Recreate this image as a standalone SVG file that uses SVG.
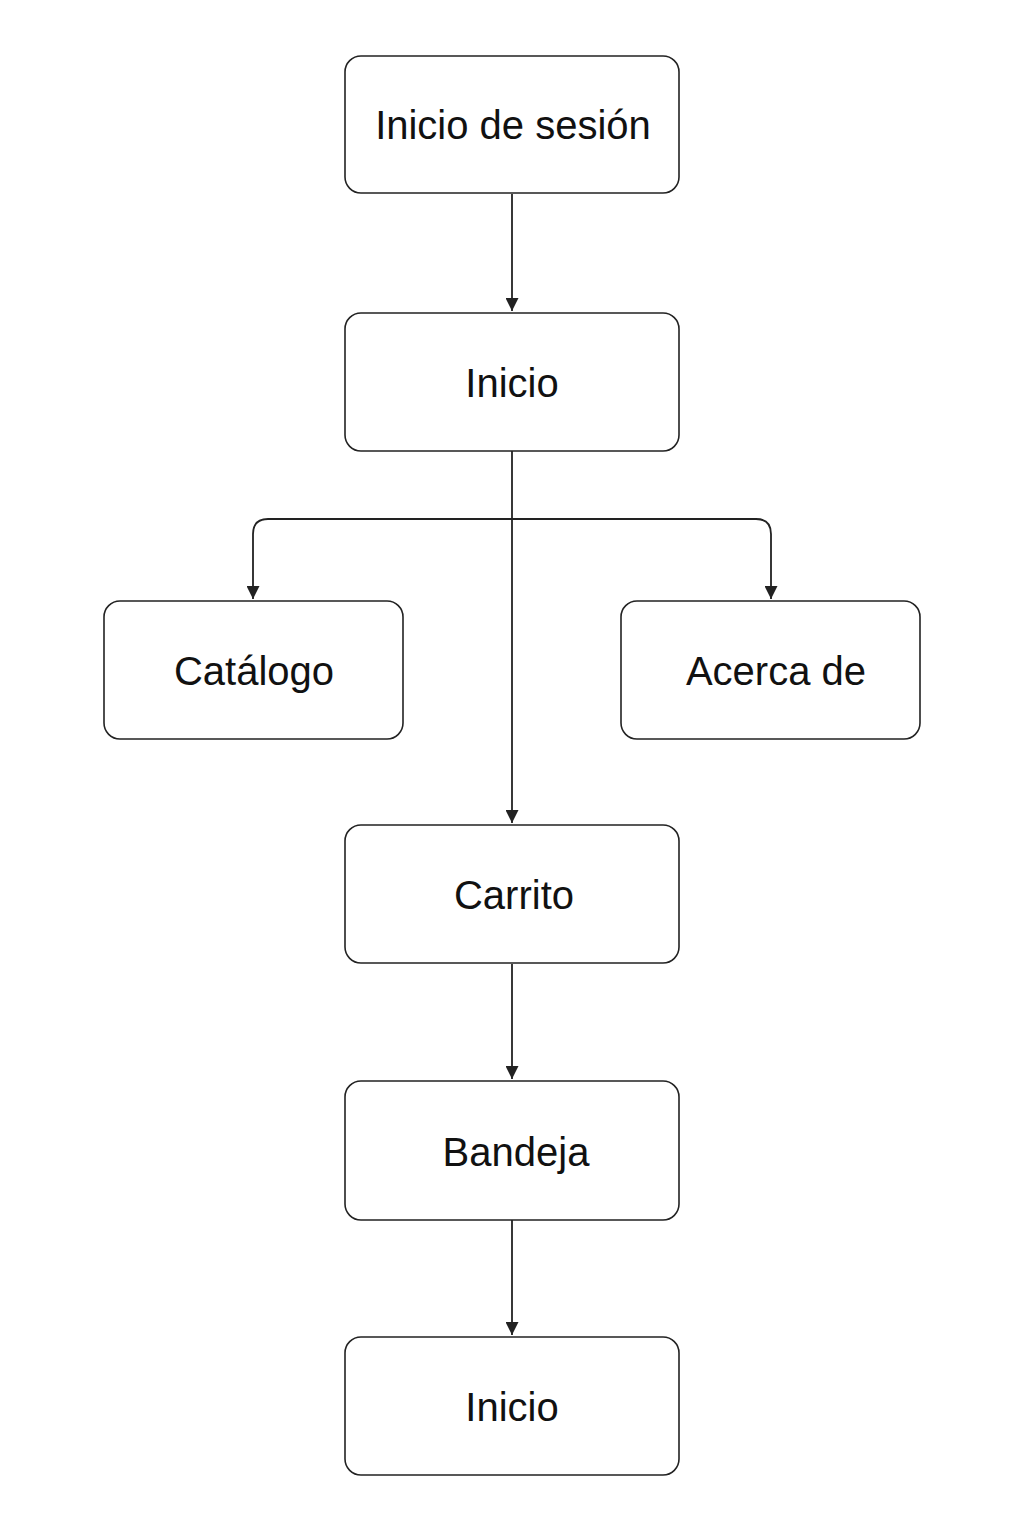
<svg xmlns="http://www.w3.org/2000/svg" width="1024" height="1536" viewBox="0 0 1024 1536">
<style>
.box{fill:#fff;stroke:#222;stroke-width:1.6}
.lbl{font-family:"Liberation Sans",Arial,sans-serif;font-size:40px;fill:#111;text-anchor:middle}
.con{fill:none;stroke:#222;stroke-width:1.8}
</style>
<defs>
<marker id="ah" viewBox="0 0 10 10" refX="10" refY="5" markerWidth="13" markerHeight="13" markerUnits="userSpaceOnUse" orient="auto">
<path d="M0,0 L10,5 L0,10 Z" fill="#222"/>
</marker>
</defs>
<rect width="1024" height="1536" fill="#fff"/>
<g id="connectors">
<path class="con" d="M512,194 V311" marker-end="url(#ah)"/>
<path class="con" d="M512,451 V823" marker-end="url(#ah)"/>
<path class="con" d="M512,519 H268 Q253,519 253,534 V599" marker-end="url(#ah)"/>
<path class="con" d="M512,519 H756 Q771,519 771,534 V599" marker-end="url(#ah)"/>
<path class="con" d="M512,964 V1079" marker-end="url(#ah)"/>
<path class="con" d="M512,1220 V1335" marker-end="url(#ah)"/>
</g>
<g id="node-login"><rect class="box" x="345" y="56" width="334" height="137" rx="16"/><text class="lbl" x="513" y="139">Inicio de sesión</text></g>
<g id="node-inicio"><rect class="box" x="345" y="313" width="334" height="138" rx="16"/><text class="lbl" x="512" y="397">Inicio</text></g>
<g id="node-catalogo"><rect class="box" x="104" y="601" width="299" height="138" rx="16"/><text class="lbl" x="254" y="685">Catálogo</text></g>
<g id="node-acerca"><rect class="box" x="621" y="601" width="299" height="138" rx="16"/><text class="lbl" x="776" y="685">Acerca de</text></g>
<g id="node-carrito"><rect class="box" x="345" y="825" width="334" height="138" rx="16"/><text class="lbl" x="514" y="909">Carrito</text></g>
<g id="node-bandeja"><rect class="box" x="345" y="1081" width="334" height="139" rx="16"/><text class="lbl" x="516" y="1166">Bandeja</text></g>
<g id="node-inicio2"><rect class="box" x="345" y="1337" width="334" height="138" rx="16"/><text class="lbl" x="512" y="1421">Inicio</text></g>
</svg>
